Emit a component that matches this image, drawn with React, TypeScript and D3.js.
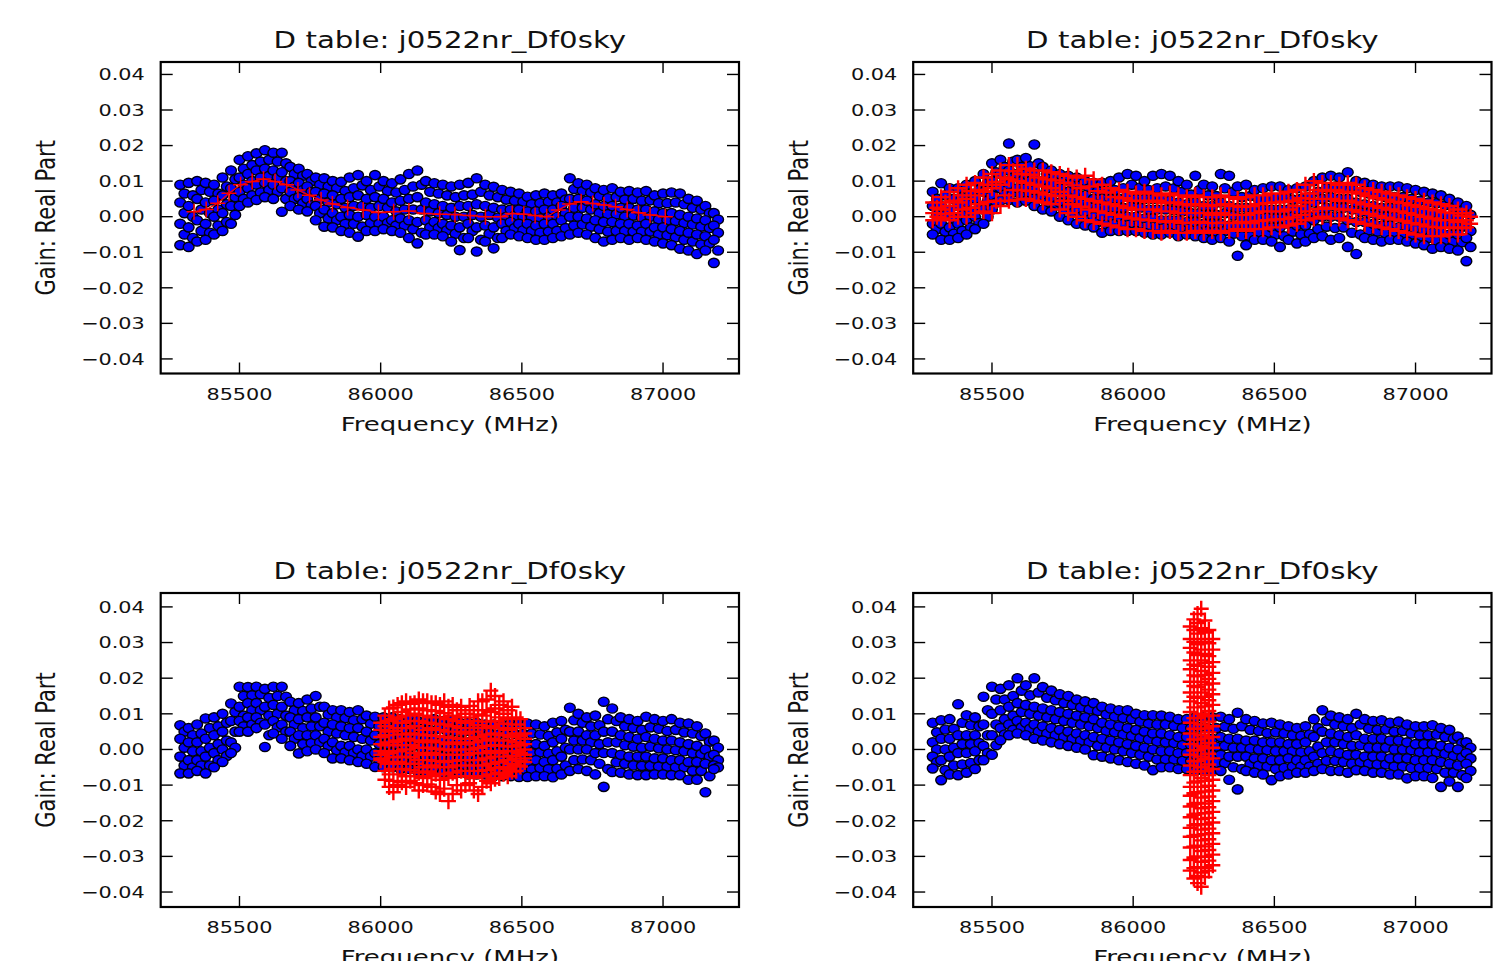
import React from 'react';
import * as d3 from 'd3';

// ---------------- text / ticks ----------------
const TITLE = 'D table: j0522nr_Df0sky';
const X_LABEL = 'Frequency (MHz)';
const Y_LABEL = 'Gain: Real Part';
const X_TICKS = [85500, 86000, 86500, 87000];
const X_TICK_LABELS = ['85500', '86000', '86500', '87000'];
const Y_TICKS = [0.04, 0.03, 0.02, 0.01, 0.0, -0.01, -0.02, -0.03, -0.04];
const Y_TICK_LABELS = ['0.04', '0.03', '0.02', '0.01', '0.00', '\u22120.01', '\u22120.02', '\u22120.03', '\u22120.04'];
const X_DOMAIN = [85221, 87269];

// ---------------- channel frequencies (MHz), two interleaved channel sets ----------------
const FREQ = [85290, 85320, 85350, 85380, 85410, 85440, 85470, 85500, 85530, 85560, 85590, 85620, 85650, 85680, 85710, 85740,
  85770, 85800, 85830, 85860, 85890, 85920, 85950, 85980, 86010, 86040, 86070, 86100, 86130, 86160, 86190, 86220,
  86250, 86280, 86310, 86340, 86370, 86400, 86430, 86460, 86490, 86520, 86550, 86580, 86610, 86640, 86670, 86700,
  86730, 86760, 86790, 86820, 86850, 86880, 86910, 86940, 86970, 87000, 87030, 87060, 87090, 87120, 87150, 87180];
const FREQ_B = [85305, 85335, 85365, 85395, 85425, 85455, 85485, 85515, 85545, 85575, 85605, 85635, 85665, 85695, 85725, 85755,
  85785, 85815, 85845, 85875, 85905, 85935, 85965, 85995, 86025, 86055, 86085, 86115, 86145, 86175, 86205, 86235,
  86265, 86295, 86325, 86355, 86385, 86415, 86445, 86475, 86505, 86535, 86565, 86595, 86625, 86655, 86685, 86715,
  86745, 86775, 86805, 86835, 86865, 86895, 86925, 86955, 86985, 87015, 87045, 87075, 87105, 87135, 87165, 87195];
const BLUE_GRID = [FREQ, FREQ_B, FREQ, FREQ_B, FREQ, FREQ_B, FREQ];

// ---------------- panel 1 ----------------
const P1_BLUE = [
  [.009, .0095, .010, .0095, .009, .011, .013, .016, .017, .0178, .0187, .018, .018, .014, .0135, .012, .011, .0108, .010, .0098, .011, .0117, .010, .0117, .010, .0094, .0105, .012, .013, .010, .0094, .009, .0085, .009, .0095, .0108, .009, .0084, .0075, .007, .0065, .0056, .006, .0065, .006, .0065, .0108, .0094, .009, .008, .0075, .008, .007, .0072, .0068, .0072, .006, .0065, .0068, .0065, .005, .0045, .003, .001],
  [.0065, .006, .0075, .007, .0065, .0085, .0105, .0135, .0145, .0155, .016, .0155, .015, .012, .0115, .010, .009, .0085, .008, .0072, .008, .0088, .0075, .0085, .0072, .0068, .0075, .0085, .009, .007, .0065, .006, .0055, .006, .0062, .007, .006, .0055, .0048, .0045, .0042, .0035, .0038, .0042, .004, .0048, .0078, .0072, .0068, .0058, .0052, .0055, .0048, .005, .0045, .0046, .0038, .0038, .004, .0035, .0025, .002, .001, -.0008],
  [.004, .003, .005, .004, .0045, .006, .008, .011, .012, .013, .0135, .013, .0125, .010, .0095, .0085, .007, .0065, .006, .005, .0055, .006, .005, .0055, .005, .004, .0045, .005, .0055, .004, .0035, .003, .0025, .003, .003, .0035, .003, .0025, .002, .002, .002, .0015, .0015, .002, .002, .003, .005, .005, .0045, .0035, .003, .003, .0025, .0025, .002, .002, .0015, .001, .001, .0005, .000, -.0005, -.001, -.0025],
  [.001, .000, .002, .001, .002, .0035, .0055, .009, .010, .011, .0115, .011, .010, .0085, .0075, .007, .005, .004, .0035, .0025, .003, .003, .0025, .003, .0025, .0015, .002, .002, .002, .0015, .001, .0005, .000, .000, .0005, .000, .0005, -.0003, .000, .0003, .000, -.0003, -.0005, .000, .000, .001, .0025, .0025, .002, .001, .0007, .0007, .000, .0003, -.0003, .000, -.0008, -.001, -.0012, -.0018, -.0022, -.0028, -.0032, -.0045],
  [-.002, -.003, -.001, -.002, .000, .001, .003, .007, .008, .009, .0095, .009, .008, .007, .0055, .005, .003, .002, .001, .000, .0005, .000, .0005, .000, .000, -.001, -.0005, -.001, -.0015, -.001, -.0015, -.002, -.0025, -.003, -.002, -.003, -.0025, -.003, -.002, -.0015, -.002, -.002, -.0025, -.002, -.002, -.001, .000, .000, -.0005, -.001, -.0015, -.0015, -.002, -.002, -.0025, -.002, -.003, -.003, -.0035, -.004, -.0045, -.005, -.0055, -.0065],
  [-.005, -.006, -.004, -.0045, -.0025, -.0015, .0005, .005, .006, .0068, .0075, .007, .005, .005, .0038, .0032, .001, -.0005, -.001, -.002, -.002, -.0028, -.0018, -.002, -.0018, -.0025, -.0025, -.0035, -.0045, -.003, -.0032, -.0038, -.0048, -.006, -.004, -.0065, -.0048, -.006, -.004, -.0032, -.0038, -.004, -.0045, -.0042, -.004, -.0032, -.0025, -.0022, -.0028, -.0035, -.0042, -.004, -.004, -.0042, -.0042, -.0042, -.005, -.0052, -.0058, -.0065, -.007, -.0078, -.0075, -.0095],
  [-.008, -.0085, -.007, -.0065, -.005, -.004, -.002, .003, .004, .0047, .0055, .005, .0014, .003, .002, .0015, -.001, -.0028, -.003, -.004, -.0045, -.0056, -.004, -.004, -.0035, -.004, -.0045, -.006, -.0075, -.005, -.005, -.0055, -.007, -.0094, -.006, -.0098, -.007, -.0089, -.006, -.005, -.0055, -.006, -.0065, -.0065, -.006, -.0055, -.005, -.0045, -.005, -.006, -.007, -.0065, -.006, -.0065, -.006, -.0065, -.007, -.0075, -.008, -.009, -.0095, -.0105, -.0095, -.013],
];
const P1_RED_FREQ = [85339, 85382, 85423, 85463, 85504, 85545, 85585, 85626, 85667, 85707, 85748, 85789, 85829, 85883, 85938, 85992, 86046, 86100, 86154,
  86209, 86263, 86317, 86371, 86425, 86466, 86507, 86547, 86588, 86629, 86669, 86710, 86751, 86791, 86832, 86873, 86913, 86954, 87008];
const P1_RED_VAL = [.0014, .002, .0038, .0066, .009, .0099, .0106, .0099, .009, .0075, .006, .0047, .0036, .0026, .0019, .0012, .0014, .0016, .0009,
  .0007, .0006, .0003, .0, .0, .0009, .0007, .0003, .0, .0019, .0036, .0042, .0037, .0033, .0028, .002, .0011, .0005, .0];

// ---------------- panel 2 ----------------
const P2_BLUE = [
  [.007, .0094, .008, .008, .009, .010, .012, .015, .016, .0206, .016, .0165, .0203, .014, .013, .012, .0115, .011, .010, .0095, .0095, .010, .011, .012, .0115, .010, .0115, .012, .0115, .010, .009, .0115, .009, .0085, .012, .0115, .0085, .009, .0075, .008, .0085, .0085, .0075, .008, .0085, .010, .011, .0115, .011, .0125, .010, .0095, .009, .0085, .0085, .0085, .008, .0075, .007, .0065, .006, .005, .004, .003],
  [.005, .006, .005, .0055, .0065, .0075, .0095, .0125, .014, .0155, .014, .0142, .015, .012, .011, .010, .0092, .0088, .008, .0072, .0072, .0075, .008, .009, .0082, .0075, .008, .0085, .008, .007, .0062, .0075, .006, .0058, .008, .007, .0055, .0058, .0048, .005, .0052, .0052, .0048, .005, .0055, .007, .008, .0085, .008, .0085, .007, .0065, .006, .0055, .0055, .0055, .005, .0045, .004, .0038, .0032, .0025, .0018, .0005],
  [.003, .003, .002, .003, .004, .005, .007, .010, .012, .013, .012, .012, .012, .010, .009, .008, .007, .0065, .006, .005, .005, .005, .005, .006, .005, .005, .005, .005, .0045, .004, .0035, .004, .003, .003, .004, .003, .0025, .0025, .002, .002, .002, .002, .002, .002, .0025, .004, .005, .0055, .005, .005, .004, .0035, .003, .0025, .0025, .0025, .002, .0015, .001, .001, .0005, .000, -.0005, -.002],
  [.0005, .0005, -.0005, .0005, .0015, .0025, .0045, .008, .010, .011, .010, .010, .0098, .008, .007, .006, .005, .004, .0035, .0025, .0025, .0025, .0025, .003, .0025, .002, .002, .002, .0018, .0015, .001, .001, .0005, .0005, .001, .0003, -.0003, -.0003, -.0003, -.0003, -.0005, -.0005, .000, -.0003, .000, .0015, .0025, .0028, .0025, .002, .0013, .001, .0005, .000, .000, -.0003, -.0005, -.001, -.0015, -.0018, -.002, -.0025, -.0028, -.004],
  [-.002, -.002, -.003, -.002, -.001, .000, .002, .006, .008, .009, .008, .008, .0075, .006, .005, .004, .003, .002, .001, .000, .000, .000, .000, .000, .000, -.0005, -.0005, -.001, -.001, -.001, -.0015, -.0015, -.002, -.002, -.002, -.0025, -.003, -.003, -.0025, -.0025, -.003, -.003, -.002, -.0025, -.0025, -.001, .000, .000, .000, -.001, -.0015, -.0015, -.002, -.0025, -.0025, -.003, -.003, -.0035, -.004, -.0045, -.0045, -.005, -.005, -.006],
  [-.0035, -.0042, -.0048, -.004, -.003, -.0018, .000, .004, .0062, .0068, .006, .0062, .0052, .004, .0032, .002, .001, .000, -.0008, -.0015, -.0022, -.002, -.002, -.002, -.002, -.0025, -.0028, -.003, -.0028, -.0032, -.0032, -.0035, -.004, -.0042, -.004, -.0048, -.0055, -.0055, -.0045, -.0045, -.005, -.0055, -.0042, -.005, -.0048, -.0035, -.0028, -.0032, -.003, -.0045, -.005, -.0038, -.0042, -.0048, -.0045, -.0048, -.005, -.0055, -.006, -.0068, -.0065, -.007, -.0072, -.0085],
  [-.005, -.0065, -.0065, -.006, -.005, -.0035, -.002, .002, .0045, .0047, .004, .0045, .003, .002, .0015, .000, -.001, -.002, -.0025, -.003, -.0045, -.004, -.004, -.004, -.004, -.0045, -.005, -.005, -.0045, -.0055, -.005, -.0055, -.006, -.0065, -.006, -.007, -.011, -.008, -.0065, -.0065, -.007, -.0085, -.0065, -.0075, -.007, -.006, -.0055, -.0065, -.006, -.0085, -.0105, -.006, -.0065, -.007, -.0065, -.0065, -.007, -.0075, -.008, -.009, -.0085, -.009, -.0095, -.0125],
];
const P2_RED_GRID = [FREQ, FREQ_B, FREQ, FREQ_B, FREQ];
const P2_RED = [
  [.004, .0055, .007, .008, .009, .0095, .011, .012, .013, .0145, .0145, .0135, .013, .013, .0125, .012, .0115, .011, .0115, .0105, .009, .008, .0075, .007, .0065, .007, .0065, .006, .0065, .006, .0055, .006, .0055, .0055, .006, .0055, .005, .0055, .006, .006, .0065, .0065, .007, .0075, .009, .010, .0095, .0095, .009, .0095, .009, .008, .0075, .007, .0065, .006, .0055, .005, .0045, .004, .0035, .003, .002, .001],
  [.0025, .004, .0045, .006, .0072, .0075, .009, .0098, .011, .0128, .012, .0118, .011, .0105, .0102, .0095, .0088, .008, .0085, .0072, .0068, .0055, .0052, .0045, .0045, .0042, .0045, .0038, .004, .0035, .0032, .0035, .003, .0032, .0035, .003, .0028, .003, .0035, .0038, .004, .0042, .0045, .0052, .0065, .0075, .0072, .0075, .0068, .007, .0065, .0058, .0052, .0048, .0042, .0038, .0032, .0028, .0022, .0018, .0012, .001, .0003, .000],
  [.001, .002, .003, .004, .005, .006, .007, .008, .009, .0105, .010, .0095, .009, .0085, .008, .007, .006, .0055, .005, .0045, .004, .0035, .003, .0025, .002, .002, .002, .0015, .0015, .001, .001, .001, .001, .0005, .001, .0005, .0005, .0005, .001, .0015, .0015, .0015, .002, .003, .004, .005, .005, .005, .0045, .0045, .004, .0035, .003, .0025, .002, .0015, .001, .0005, .000, -.0005, -.001, -.001, -.0015, -.001],
  [.000, .0008, .001, .002, .0025, .0035, .0042, .0045, .006, .0075, .0074, .0072, .0068, .0062, .0058, .0045, .0035, .0028, .002, .0015, .001, .0005, .000, -.0005, -.0008, -.001, -.0012, -.0015, -.0012, -.0018, -.0017, -.0015, -.0018, -.0018, -.0017, -.0018, -.0015, -.0018, -.0012, -.001, -.0008, -.0007, -.0002, .0005, .0015, .0022, .0025, .0022, .002, .0018, .0012, .0008, .0002, -.0003, -.0008, -.0012, -.0018, -.0022, -.0028, -.003, -.0032, -.003, -.0032, -.002],
  [-.001, -.0005, -.001, .000, .000, .001, .0015, .001, .003, .0045, .0048, .005, .0045, .004, .0035, .002, .001, .000, -.001, -.0015, -.002, -.0025, -.003, -.0035, -.0035, -.004, -.004, -.0045, -.004, -.0045, -.0045, -.004, -.0045, -.004, -.0045, -.004, -.0035, -.004, -.0035, -.0035, -.003, -.003, -.0025, -.002, -.001, -.0005, .000, -.0005, -.0005, -.001, -.0015, -.002, -.0025, -.003, -.0035, -.004, -.0045, -.005, -.0055, -.0055, -.0055, -.005, -.005, -.003],
];

// ---------------- panel 3 ----------------
const P3_BLUE = [
  [.0068, .006, .007, .0087, .009, .010, .0129, .0176, .0175, .0176, .017, .0176, .0176, .0134, .013, .014, .015, .012, .011, .011, .0105, .011, .0095, .0092, .009, .009, .0085, .0085, .008, .008, .0085, .008, .008, .0075, .0075, .0075, .007, .007, .007, .0072, .0072, .0073, .007, .0065, .0075, .008, .0117, .010, .009, .0095, .0134, .0115, .009, .0085, .008, .0092, .0085, .008, .0085, .0075, .0073, .0065, .0045, .0025],
  [.005, .004, .0045, .006, .0065, .0075, .0105, .015, .0152, .0155, .0145, .015, .0148, .011, .0108, .0115, .012, .0098, .009, .0088, .0082, .0085, .0072, .0065, .0065, .0065, .006, .006, .0055, .0055, .0058, .0052, .0052, .005, .0048, .0048, .0045, .0042, .0042, .0044, .0044, .0045, .0042, .0038, .0048, .0055, .0082, .0075, .0065, .0068, .0085, .008, .0065, .006, .0055, .0062, .0058, .0052, .0055, .0048, .0045, .0038, .0022, .0005],
  [.003, .002, .002, .003, .004, .005, .008, .012, .013, .013, .012, .0125, .012, .009, .0085, .009, .009, .0075, .007, .0065, .006, .006, .005, .004, .004, .004, .0035, .0035, .003, .003, .003, .0025, .0025, .0025, .002, .002, .002, .0015, .0015, .0015, .0015, .0015, .0015, .001, .002, .003, .005, .005, .004, .004, .005, .005, .004, .0035, .003, .0035, .003, .0025, .0025, .002, .0015, .001, .000, -.0015],
  [.0005, -.0005, -.0005, .0005, .0015, .0025, .005, .0095, .011, .011, .0095, .010, .0095, .007, .006, .0065, .0065, .005, .0045, .004, .0035, .003, .0025, .0015, .0015, .0015, .001, .001, .0005, .0005, .0005, .0002, .000, .000, -.0002, -.0005, -.0005, -.0008, -.0008, -.0008, -.001, -.001, -.0008, -.0012, -.0005, .0005, .0025, .0025, .002, .0015, .002, .002, .0012, .0008, .0005, .0008, .0003, .000, -.0002, -.0005, -.001, -.0013, -.002, -.003],
  [-.002, -.003, -.003, -.002, -.001, .000, .002, .008, .009, .009, .007, .008, .007, .005, .004, .004, .004, .003, .002, .001, .001, .000, .000, -.001, -.001, -.001, -.0015, -.0015, -.002, -.002, -.002, -.002, -.0025, -.0025, -.0025, -.003, -.003, -.003, -.003, -.003, -.0035, -.0035, -.003, -.0035, -.003, -.002, .000, .000, .000, -.001, -.001, -.001, -.0015, -.002, -.002, -.002, -.0025, -.0025, -.003, -.003, -.0035, -.0035, -.004, -.0045],
  [-.0045, -.005, -.0045, -.0045, -.003, -.0018, .0005, .0065, .007, .0075, .004, .0062, .005, .003, .0015, .0018, .002, .001, -.0002, -.0008, -.001, -.0018, -.002, -.003, -.003, -.003, -.0035, -.0035, -.004, -.004, -.004, -.0042, -.0045, -.0045, -.0048, -.005, -.005, -.0052, -.0052, -.0052, -.0056, -.0056, -.0052, -.0055, -.0054, -.0045, -.003, -.0028, -.003, -.004, -.0055, -.0036, -.004, -.0045, -.0046, -.0046, -.0048, -.0048, -.005, -.005, -.006, -.006, -.0075, -.005],
  [-.0067, -.0067, -.006, -.0067, -.005, -.0035, -.001, .005, .005, .006, .0007, .0045, .003, .001, -.0011, -.0005, .000, -.001, -.0025, -.0025, -.003, -.0035, -.004, -.0049, -.005, -.005, -.0055, -.0055, -.006, -.006, -.006, -.0065, -.0065, -.0065, -.007, -.007, -.007, -.0075, -.0075, -.0075, -.0077, -.0077, -.0075, -.0075, -.0078, -.007, -.006, -.0055, -.006, -.007, -.0105, -.0063, -.0065, -.007, -.0072, -.0072, -.007, -.007, -.0072, -.0072, -.0085, -.0085, -.012, -.0055],
];
const P3_RED_FREQ = [86000, 86030, 86060, 86090, 86120, 86150, 86180, 86210, 86240, 86270, 86300, 86330, 86360, 86390, 86420, 86450, 86480, 86510];
const P3_RED = [
  [.0075, .0055, .0035, .0015, -.0005, -.0015, -.0025, -.003],
  [.0115, .008, .005, .002, -.001, -.004, -.007, -.0105],
  [.0125, .009, .006, .0025, -.0005, -.0035, -.007, -.010],
  [.0135, .0095, .006, .003, .000, -.004, -.0075, -.0105],
  [.013, .010, .0065, .0025, -.001, -.004, -.0075, -.0095],
  [.0135, .0095, .0055, .002, -.0015, -.005, -.008, -.010],
  [.013, .009, .006, .0025, -.001, -.0045, -.0075, -.0105],
  [.0125, .009, .0055, .002, -.0015, -.005, -.0085, -.0125],
  [.012, .0085, .005, .0015, -.0015, -.005, -.008, -.0145],
  [.011, .008, .005, .002, -.0015, -.0045, -.0075, -.010],
  [.010, .0075, .0045, .0015, -.0015, -.0045, -.0075, -.010],
  [.011, .008, .005, .002, -.001, -.0045, -.008, -.0115],
  [.0135, .0095, .006, .0025, -.001, -.0045, -.0075, -.0105],
  [.0165, .0105, .0065, .003, -.0005, -.004, -.007, -.0095],
  [.0125, .009, .006, .0025, -.001, -.0035, -.0065, -.008],
  [.011, .0085, .0055, .0025, -.0005, -.003, -.0055, -.0075],
  [.009, .007, .0045, .002, -.0005, -.0025, -.0045, -.006],
  [.006, .0045, .003, .0015, .000, -.0015, -.0025, -.0035],
];
const P3_RED_FREQ_B = [86015, 86045, 86075, 86105, 86135, 86165, 86195, 86225, 86255, 86285, 86315, 86345, 86375, 86405, 86435, 86465, 86495];
const P3_RED_B = [
  [.0095, .0065, .004, .0012, -.0012, -.0035, -.006, -.0085],
  [.0118, .0085, .0052, .002, -.0022, -.0055, -.0088, -.012],
  [.013, .0105, .0075, .0042, .0012, -.002, -.0055, -.0092],
  [.0128, .0112, .008, .0045, .0012, -.0022, -.0058, -.0088],
  [.014, .0115, .008, .0042, .0005, -.003, -.0065, -.0115],
  [.0135, .011, .0075, .004, .0005, -.003, -.0062, -.0098],
  [.013, .0108, .0072, .0038, .0002, -.0032, -.0068, -.0118],
  [.0135, .0102, .007, .0035, .000, -.0035, -.007, -.011],
  [.0125, .0095, .0065, .0032, -.0002, -.0032, -.0065, -.0125],
  [.012, .009, .006, .003, .000, -.003, -.006, -.0115],
  [.0122, .009, .006, .003, .000, -.003, -.006, -.0095],
  [.0135, .0098, .0068, .0035, .0005, -.003, -.006, -.0125],
  [.014, .011, .0078, .0042, .001, -.0025, -.0058, -.0088],
  [.015, .0115, .008, .0045, .0012, -.002, -.0052, -.0082],
  [.0135, .010, .0072, .004, .001, -.002, -.005, -.0068],
  [.012, .0088, .006, .0035, .0008, -.0018, -.004, -.0062],
  [.0085, .006, .0038, .0012, -.001, -.0032, -.0048],
];

// ---------------- panel 4 ----------------
const P4_BLUE = [
  [.0075, .0082, .0085, .0127, .0096, .009, .0148, .0176, .017, .018, .020, .018, .020, .0175, .0165, .0155, .015, .014, .0135, .013, .012, .0115, .011, .011, .010, .0096, .0096, .0095, .0092, .0085, .0085, .009, .009, .009, .0092, .0085, .0103, .0085, .008, .0073, .0075, .007, .0065, .006, .0065, .0085, .011, .0095, .009, .0085, .010, .0085, .008, .0082, .0075, .0078, .007, .0065, .0065, .0068, .006, .0055, .0036, .002],
  [.0048, .0056, .0058, .0075, .0068, .0065, .011, .014, .014, .015, .0165, .0152, .016, .0145, .0138, .013, .0125, .0118, .0112, .0108, .0098, .0092, .0088, .0085, .0078, .0072, .007, .007, .0066, .006, .006, .0062, .006, .006, .0064, .0058, .0065, .0055, .0052, .0046, .0048, .0045, .004, .0038, .0042, .006, .008, .007, .0065, .006, .007, .0058, .0055, .0056, .005, .0052, .0045, .004, .004, .0042, .0035, .003, .0018, .0005],
  [.002, .003, .003, .004, .004, .004, .007, .010, .011, .012, .013, .0125, .012, .0115, .011, .0105, .010, .0095, .009, .0085, .0075, .007, .0065, .006, .0055, .005, .0045, .0045, .004, .0035, .0035, .0035, .003, .003, .0035, .003, .003, .0025, .0025, .002, .002, .002, .0015, .0015, .002, .0035, .005, .0045, .004, .0035, .004, .003, .003, .003, .0025, .0025, .002, .0015, .0015, .0015, .001, .0005, .000, -.001],
  [.000, .000, .0005, .0015, .0015, .0018, .004, .007, .0085, .0095, .0105, .010, .0095, .009, .0085, .008, .0075, .007, .0065, .006, .0052, .0048, .0042, .0038, .0032, .0028, .0022, .002, .0018, .0012, .0012, .001, .0008, .0008, .001, .0005, .0005, .0002, .000, -.0002, -.0005, -.0005, -.0005, -.0008, -.0005, .0008, .002, .002, .0015, .001, .0012, .0005, .0005, .0005, .000, .000, -.0002, -.0008, -.0008, -.0008, -.0012, -.0018, -.0022, -.0025],
  [-.002, -.003, -.002, -.001, -.001, -.0005, .001, .004, .006, .007, .008, .0075, .007, .0065, .006, .0055, .005, .0045, .004, .0035, .003, .0025, .002, .0015, .001, .0005, .000, -.0005, -.0005, -.001, -.001, -.0015, -.0015, -.0015, -.0015, -.002, -.002, -.002, -.0025, -.0025, -.003, -.003, -.0025, -.003, -.003, -.002, -.001, -.0005, -.001, -.0015, -.0015, -.002, -.002, -.002, -.0025, -.0025, -.0025, -.003, -.003, -.003, -.0035, -.004, -.0045, -.004],
  [-.0036, -.0058, -.0045, -.0042, -.0038, -.003, -.001, .0012, .0042, .0055, .0062, .0058, .005, .0045, .004, .0035, .003, .0025, .002, .001, .0005, .000, -.0005, -.001, -.0015, -.002, -.0028, -.0028, -.0028, -.0032, -.0032, -.0038, -.0038, -.0038, -.0038, -.005, -.0055, -.004, -.0045, -.0048, -.0055, -.0052, -.0048, -.0048, -.0048, -.004, -.0032, -.0032, -.0035, -.004, -.0036, -.004, -.0042, -.0042, -.0048, -.0048, -.0052, -.0052, -.0052, -.0055, -.0065, -.0065, -.0072, -.006],
  [-.0053, -.0086, -.007, -.0072, -.0065, -.0055, -.003, -.0015, .0026, .004, .0045, .004, .003, .0025, .002, .0015, .001, .0005, .000, -.0016, -.002, -.0025, -.003, -.0035, -.004, -.0045, -.0058, -.005, -.005, -.0055, -.0055, -.006, -.006, -.006, -.006, -.0085, -.0112, -.006, -.0065, -.007, -.0086, -.0075, -.007, -.0065, -.0065, -.006, -.0055, -.006, -.006, -.0065, -.0058, -.006, -.0065, -.0065, -.007, -.007, -.0081, -.0075, -.0075, -.008, -.0105, -.009, -.0105, -.008],
];
const P4_RED_FREQ = [86202, 86215, 86228, 86241, 86254, 86268, 86282];
const P4_RED = [
  [.0345, .031, .0285, .025, .0225, .019, .016, .0135, .0105, .0075, .0045, .0015, -.0015, -.0045, -.0072, -.0105, -.013, -.016, -.019, -.022, -.0245, -.0275, -.031, -.034],
  [.0365, .0335, .0302, .0272, .0238, .0208, .0178, .0148, .0118, .0088, .0058, .0028, -.0003, -.0033, -.0063, -.0093, -.0123, -.0153, -.0183, -.0213, -.0243, -.0273, -.0303, -.0333, -.0362],
  [.038, .0355, .0325, .0295, .0265, .0235, .0205, .0175, .0145, .0118, .0088, .0058, .0028, -.0002, -.0032, -.0062, -.009, -.012, -.015, -.018, -.021, -.024, -.027, -.030, -.033, -.0355, -.0375],
  [.0395, .034, .031, .028, .025, .022, .019, .016, .013, .010, .007, .004, .001, -.002, -.005, -.008, -.0105, -.0135, -.0165, -.0195, -.0225, -.0255, -.0285, -.0315, -.0345, -.0385],
  [.0362, .0328, .0302, .0268, .0243, .0209, .0182, .0148, .0121, .0093, .0059, .0031, .0004, -.0027, -.0061, -.0088, -.0118, -.0152, -.0179, -.0211, -.0238, -.0272, -.0301, -.0332, -.0358],
  [.0335, .0298, .0262, .0232, .0198, .0168, .0138, .0108, .0078, .0048, .0018, -.0012, -.0042, -.0072, -.0102, -.0132, -.0162, -.0192, -.0222, -.0252, -.0282, -.0312, -.034],
  [.031, .028, .0245, .0215, .0185, .0155, .0125, .0095, .0065, .0035, .0005, -.0025, -.0055, -.0085, -.0115, -.0145, -.0175, -.0205, -.0235, -.0265, -.0295, -.0325],
];

// ---------------- layout & style ----------------
const SX = 1.3; // horizontal stretch of the original raster
const FONT = 'DejaVu Sans';
const TEXT = '#111';
const BLUE_RX = 5.4, BLUE_RY = 4.6;
const PLUS_HW = 7.5, PLUS_HH = 8;

type Pt = [number, number];
type Box = { left: number; right: number; top: number; bottom: number; yDomain: [number, number] };
const BOXES: Box[] = [
  { left: 160.7, right: 739, top: 62, bottom: 373.5, yDomain: [-0.0441, 0.0435] },
  { left: 913.2, right: 1491.5, top: 62, bottom: 373.5, yDomain: [-0.0441, 0.0435] },
  { left: 160.7, right: 739, top: 593, bottom: 907, yDomain: [-0.0442, 0.0439] },
  { left: 913.2, right: 1491.5, top: 593, bottom: 907, yDomain: [-0.0442, 0.0439] },
];

const rowsToPts = (grids: number[][], rows: number[][]): Pt[] => {
  const out: Pt[] = [];
  const n = Math.max(...rows.map(r => r.length));
  for (let i = 0; i < n; i++) rows.forEach((r, k) => { if (r[i] !== undefined) out.push([grids[k][i], r[i]]); });
  return out;
};
const colsToPts = (freqs: number[], cols: number[][]): Pt[] =>
  cols.flatMap((c, i) => c.map(v => [freqs[i], v] as Pt));

const PANELS = [
  { blue: rowsToPts(BLUE_GRID, P1_BLUE), red: P1_RED_FREQ.map((f, i) => [f, P1_RED_VAL[i]] as Pt), line: true },
  { blue: rowsToPts(BLUE_GRID, P2_BLUE), red: rowsToPts(P2_RED_GRID, P2_RED), line: false },
  { blue: rowsToPts(BLUE_GRID, P3_BLUE), red: [...colsToPts(P3_RED_FREQ, P3_RED), ...colsToPts(P3_RED_FREQ_B, P3_RED_B)], line: false },
  { blue: rowsToPts(BLUE_GRID, P4_BLUE), red: colsToPts(P4_RED_FREQ, P4_RED), line: false },
];

function SText(props: { x: number; y: number; size: number; anchor: string; rotate?: boolean; children: React.ReactNode }) {
  const { x, y, size, anchor, rotate, children } = props;
  return (
    <text transform={`translate(${x},${y}) scale(${SX},1)${rotate ? ' rotate(-90)' : ''}`}
      textAnchor={anchor} fontSize={size} fontFamily={FONT} fill={TEXT}>{children}</text>
  );
}

function Panel({ box, idx }: { box: Box; idx: number }) {
  const p = PANELS[idx];
  const x = d3.scaleLinear().domain(X_DOMAIN).range([box.left, box.right]);
  const y = d3.scaleLinear().domain(box.yDomain).range([box.bottom, box.top]);
  const plus = p.red.map(([f, v]) => {
    const cx = x(f), cy = y(v);
    return `M${cx - PLUS_HW},${cy}H${cx + PLUS_HW}M${cx},${cy - PLUS_HH}V${cy + PLUS_HH}`;
  }).join('');
  const line = d3.line<Pt>().x(d => x(d[0])).y(d => y(d[1]));
  const clipId = `clip${idx}`;
  const cxm = (box.left + box.right) / 2;
  return (
    <g>
      <defs>
        <clipPath id={clipId}>
          <rect x={box.left} y={box.top} width={box.right - box.left} height={box.bottom - box.top} />
        </clipPath>
      </defs>
      <g clipPath={`url(#${clipId})`}>
        {p.blue.map(([f, v], i) => (
          <ellipse key={i} cx={x(f)} cy={y(v)} rx={BLUE_RX} ry={BLUE_RY} fill="#0000ff" stroke="#000010" strokeWidth={1.4} />
        ))}
        {p.line && <path d={line(p.red) || ''} fill="none" stroke="#ff0000" strokeWidth={1.2} />}
        <path d={plus} fill="none" stroke="#ff0000" strokeWidth={p.line ? 1.5 : 2.4} />
      </g>
      {X_TICKS.map(t => (
        <g key={'xt' + t} stroke="#000" strokeWidth={1.4}>
          <line x1={x(t)} x2={x(t)} y1={box.bottom} y2={box.bottom - 11} />
          <line x1={x(t)} x2={x(t)} y1={box.top} y2={box.top + 11} />
        </g>
      ))}
      {Y_TICKS.map(t => (
        <g key={'yt' + t} stroke="#000" strokeWidth={1.4}>
          <line x1={box.left} x2={box.left + 12} y1={y(t)} y2={y(t)} />
          <line x1={box.right} x2={box.right - 12} y1={y(t)} y2={y(t)} />
        </g>
      ))}
      <rect x={box.left} y={box.top} width={box.right - box.left} height={box.bottom - box.top}
        fill="none" stroke="#000" strokeWidth={2.2} />
      {X_TICKS.map((t, i) => (
        <SText key={'xl' + t} x={x(t)} y={box.bottom + 26} size={16} anchor="middle">{X_TICK_LABELS[i]}</SText>
      ))}
      {Y_TICKS.map((t, i) => (
        <SText key={'yl' + t} x={box.left - 16} y={y(t) + 5.8} size={16} anchor="end">{Y_TICK_LABELS[i]}</SText>
      ))}
      <SText x={cxm} y={box.top - 13.7} size={22.5} anchor="middle">{TITLE}</SText>
      <SText x={cxm} y={box.bottom + 57} size={20} anchor="middle">{X_LABEL}</SText>
      <SText x={box.left - 105.7} y={(box.top + box.bottom) / 2} size={21} anchor="middle" rotate>{Y_LABEL}</SText>
    </g>
  );
}

export default function App() {
  return (
    <svg width={1493} height={961} viewBox="0 0 1493 961"
      style={{ position: 'absolute', left: 0, top: 0, background: '#fff' }}>
      <rect x={0} y={0} width={1493} height={961} fill="#fff" />
      {BOXES.map((b, i) => <Panel key={i} box={b} idx={i} />)}
    </svg>
  );
}
